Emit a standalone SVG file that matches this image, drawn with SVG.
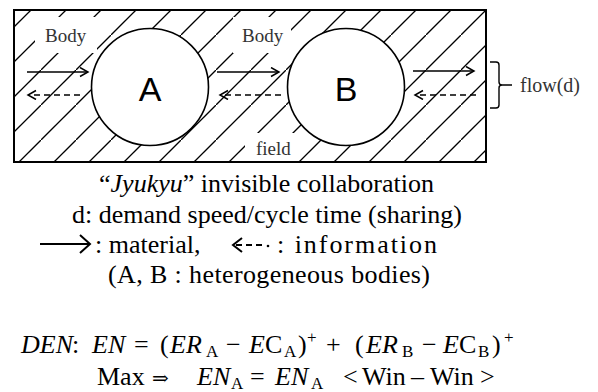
<svg xmlns="http://www.w3.org/2000/svg" width="598" height="392" viewBox="0 0 598 392">
<style>
.lbl{font-family:"Liberation Serif","DejaVu Serif",serif;font-size:19px;fill:#333}
.node-letter{font-family:"Liberation Sans","DejaVu Sans",sans-serif;font-size:34px;fill:#000}
.txt{font-family:"Liberation Serif","Times New Roman",serif;font-size:26px;fill:#000}
.it{font-style:italic}
.sub{font-size:17px}
.hat{stroke:#000;stroke-width:1.3}
.flow{stroke:#000;stroke-width:1.5;fill:none}
.dash{stroke-dasharray:6 4}
</style>
<defs>
<pattern id="hatch" patternUnits="userSpaceOnUse" x="6" y="0" width="35" height="35">
<path class="hat" d="M-5,40 L40,-5"/>
</pattern>
<marker id="head" markerUnits="userSpaceOnUse" markerWidth="12" markerHeight="12" refX="9" refY="5" orient="auto">
<path d="M1,0.5 L9,5 L1,9.5" fill="none" stroke="#000" stroke-width="1.5"/>
</marker>
</defs>

<g id="field">
<rect x="14" y="10" width="472" height="152" fill="url(#hatch)"/>
<rect x="35" y="17" width="62" height="36" fill="#fff"/>
<rect x="233" y="17" width="58" height="36" fill="#fff"/>
<rect x="245" y="133" width="52" height="28" fill="#fff"/>
<text class="lbl" x="45" y="42">Body</text>
<text class="lbl" x="242" y="42">Body</text>
<text class="lbl" x="256" y="155">field</text>
<rect x="14" y="10" width="472" height="152" fill="none" stroke="#000" stroke-width="2"/>
</g>

<g id="nodeA">
<circle cx="150" cy="87" r="58.5" fill="#fff" stroke="#000" stroke-width="1.6"/>
<text class="node-letter" x="150" y="101" text-anchor="middle">A</text>
</g>
<g id="nodeB">
<circle cx="346" cy="87" r="58.5" fill="#fff" stroke="#000" stroke-width="1.6"/>
<text class="node-letter" x="346" y="101" text-anchor="middle">B</text>
</g>

<g id="connectors">
<line class="flow" x1="27" y1="72" x2="88" y2="72" marker-end="url(#head)"/>
<line class="flow dash" x1="80" y1="95" x2="28" y2="95" marker-end="url(#head)"/>
<line class="flow" x1="217" y1="72" x2="279" y2="72" marker-end="url(#head)"/>
<line class="flow dash" x1="281" y1="95" x2="220" y2="95" marker-end="url(#head)"/>
<line class="flow" x1="413" y1="71" x2="474" y2="71" marker-end="url(#head)"/>
<line class="flow dash" x1="476" y1="95" x2="415" y2="95" marker-end="url(#head)"/>
</g>

<g id="flow-brace">
<path d="M490,62 L496,62 Q499,62 499,65 L499,82 Q499,85 502,85 Q499,85 499,88 L499,105 Q499,108 496,108 L490,108 M502,85 L512,85" fill="none" stroke="#000" stroke-width="1.4"/>
<text class="lbl" x="520" y="92" style="font-size:20px">flow(d)</text>
</g>

<g id="caption">
<text class="txt" x="99" y="192">“<tspan class="it">Jyukyu</tspan>” invisible collaboration</text>
<text class="txt" x="72" y="223">d: demand speed/cycle time (sharing)</text>
<path d="M40,244 L90,244 M80,235 L90,244 L80,253" fill="none" stroke="#000" stroke-width="2"/>
<text class="txt" x="95" y="253">: material,</text>
<path d="M242,238 L233,245 L242,252" fill="none" stroke="#000" stroke-width="2"/>
<path d="M236,245 L264,245" fill="none" stroke="#000" stroke-width="2" stroke-dasharray="6 4"/>
<circle cx="268" cy="246" r="1.3" fill="#000"/>
<text class="txt" x="277" y="253" textLength="160" lengthAdjust="spacing">: information</text>
<text class="txt" x="108" y="283" textLength="322" lengthAdjust="spacing">(A, B : heterogeneous bodies)</text>
</g>

<g id="formula" class="txt">
<text y="353"><tspan class="it" x="21">DEN</tspan><tspan x="72">:</tspan><tspan class="it" x="92">EN</tspan><tspan x="134">=</tspan><tspan x="160">(</tspan><tspan class="it" x="170">ER</tspan><tspan class="sub" x="206" dy="4">A</tspan><tspan x="226" dy="-4">−</tspan><tspan class="it" x="249">E</tspan><tspan x="265">C</tspan><tspan class="sub" x="284" dy="4">A</tspan><tspan x="298" dy="-4">)</tspan><tspan class="sub" x="307" dy="-10">+</tspan><tspan x="326" dy="10">+</tspan><tspan x="355">(</tspan><tspan class="it" x="366">ER</tspan><tspan class="sub" x="402" dy="4">B</tspan><tspan x="422" dy="-4">−</tspan><tspan class="it" x="443">E</tspan><tspan x="459">C</tspan><tspan class="sub" x="478" dy="4">B</tspan><tspan x="492" dy="-4">)</tspan><tspan class="sub" x="504" dy="-10">+</tspan></text>
<text y="385"><tspan x="97">Max</tspan><tspan x="152" style="font-family:'DejaVu Serif',serif;font-size:20px">⇒</tspan><tspan class="it" x="197">EN</tspan><tspan class="sub" x="231" dy="4">A</tspan><tspan x="250" dy="-4">=</tspan><tspan class="it" x="275">EN</tspan><tspan class="sub" x="311" dy="4">A</tspan><tspan x="343" dy="-4">&lt;</tspan><tspan x="362">Win</tspan><tspan x="411">–</tspan><tspan x="430">Win</tspan><tspan x="480">&gt;</tspan></text>
</g>
</svg>
